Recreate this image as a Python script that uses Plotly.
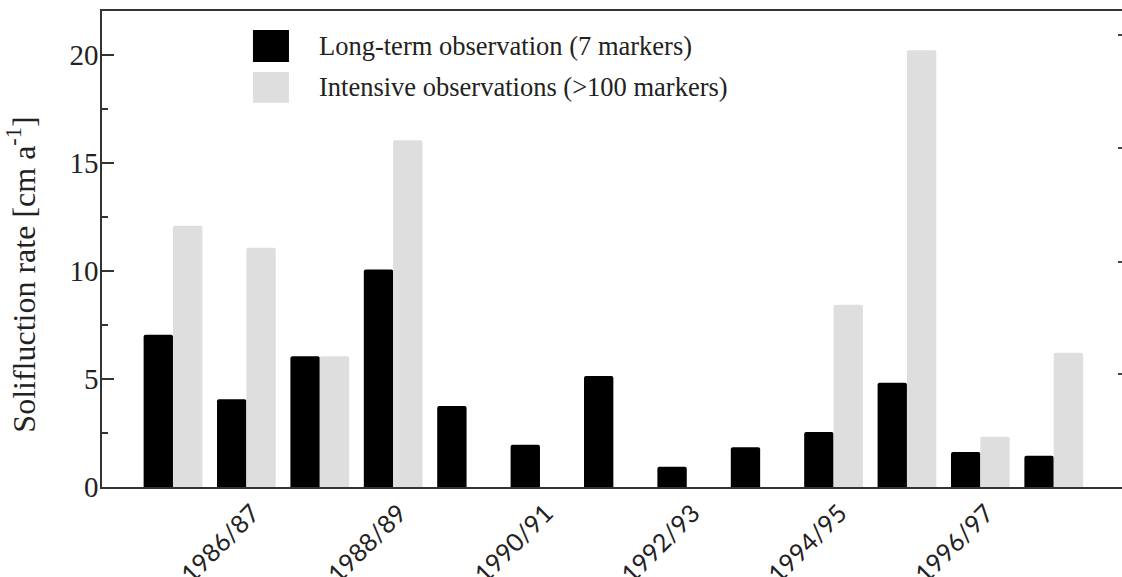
import plotly.graph_objects as go

# ---- data ----
seasons = ["1985/86", "1986/87", "1987/88", "1988/89", "1989/90", "1990/91", "1991/92",
           "1992/93", "1993/94", "1994/95", "1995/96", "1996/97", "1997/98"]
long_term = [7.05, 4.07, 6.06, 10.08, 3.75, 1.96, 5.14, 0.94, 1.84, 2.55, 4.83, 1.62, 1.45]
intensive = [12.1, 11.08, 6.06, 16.06, None, None, None, None, None, 8.44, 20.23, 2.33, 6.22]
tick_labels = ["1986/87", "1988/89", "1990/91", "1992/93", "1994/95", "1996/97"]
right_ticks = [5.23, 10.42, 15.69, 20.93]

name_long = "Long-term observation (7 markers)"
name_int = "Intensive observations (>100 markers)"
col_long = "#000000"
col_int = "#dedede"

SERIF = "Liberation Serif, Times New Roman, serif"
SANS = "Lato, Open Sans, sans-serif"

fig = go.Figure()
fig.add_trace(go.Bar(x=seasons, y=long_term, name=name_long, marker=dict(color=col_long, line_width=0)))
fig.add_trace(go.Bar(x=seasons, y=intensive, name=name_int, marker=dict(color=col_int, line_width=0)))
# invisible trace to carry right-hand tick marks
fig.add_trace(go.Scatter(x=[seasons[0]], y=[0], yaxis="y2", mode="markers",
                         marker=dict(opacity=0), showlegend=False, hoverinfo="skip"))

fig.update_layout(
    width=1122, height=577,
    margin=dict(l=102, r=0, t=11, b=90),
    paper_bgcolor="white", plot_bgcolor="white",
    barmode="group", bargap=0.2, bargroupgap=0.0, barcornerradius=2,
    showlegend=False,
    xaxis=dict(
        range=[-0.967, 12.93], showline=True, linecolor="#333", linewidth=1.5, mirror=True,
        ticks="", showgrid=False, zeroline=False, automargin=False,
        tickmode="array", tickvals=tick_labels, ticktext=tick_labels,
        tickangle=-45, tickfont=dict(family=SANS, size=25, color="#222"), ticklabelshift=6,
    ),
    yaxis=dict(
        range=[0, 22.05], showline=True, linecolor="#333", linewidth=1.5,
        ticks="inside", ticklen=12, tickwidth=1.5, tickcolor="#333",
        tickmode="linear", tick0=0, dtick=5, showgrid=False, zeroline=False, automargin=False,
        minor=dict(ticks="inside", ticklen=6, tickwidth=1.5, tickcolor="#333", dtick=2.5, tick0=0, showgrid=False),
        tickfont=dict(family=SERIF, size=29, color="#222"), ticklabelstandoff=-4,
    ),
    yaxis2=dict(
        overlaying="y", side="right", range=[0, 22.05], showline=False, automargin=False,
        ticks="inside", ticklen=4, tickwidth=1.5, tickcolor="#444",
        tickmode="array", tickvals=right_ticks, showticklabels=False,
        showgrid=False, zeroline=False,
    ),
)

# y-axis title
fig.add_annotation(text="Solifluction rate [cm a<sup>-1</sup>]", xref="paper", yref="paper",
                   x=-0.079, y=0.447, xanchor="center", yanchor="middle", textangle=-90,
                   showarrow=False, font=dict(family=SERIF, size=32, color="#222"))

# custom legend
legend_items = [(name_long, col_long, 0.960, 0.893), (name_int, col_int, 0.872, 0.807)]
for name, col, y1, y0 in legend_items:
    fig.add_shape(type="rect", xref="paper", yref="paper", x0=0.148, x1=0.1833, y0=y0, y1=y1,
                  fillcolor=col, line_width=0, layer="above")
    fig.add_annotation(text=name, xref="paper", yref="paper", x=0.2108, y=(y0 + y1) / 2,
                       xanchor="left", yanchor="middle", showarrow=False,
                       font=dict(family=SERIF, size=26.5, color="#222"))

fig.write_html(
    "out.html",
    config={"displayModeBar": False},
    post_script="document.body.style.margin='0';document.body.style.overflow='hidden';"
                "document.documentElement.style.overflow='hidden';",
)
